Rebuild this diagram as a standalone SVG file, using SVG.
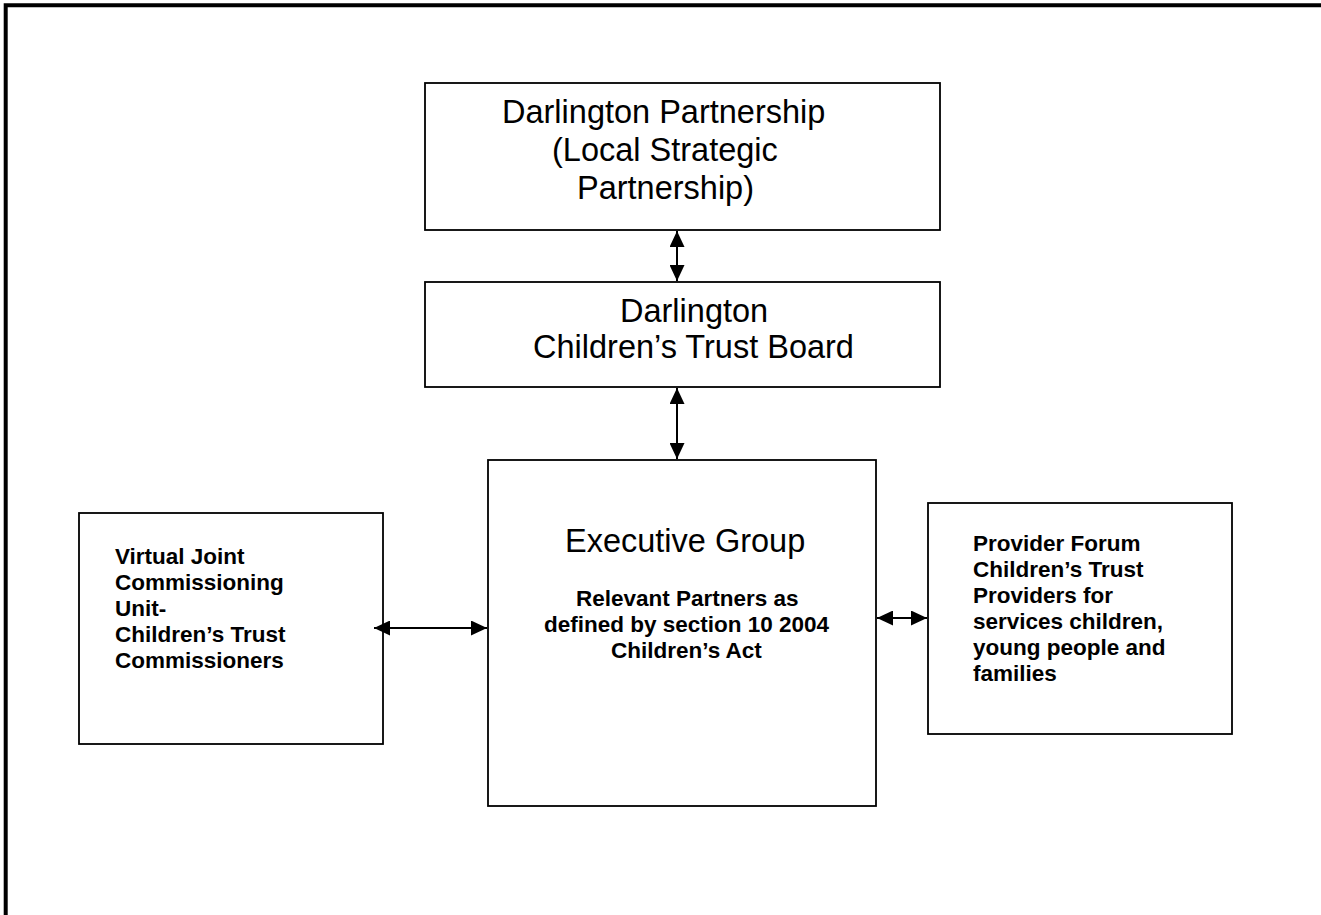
<svg xmlns="http://www.w3.org/2000/svg" width="1321" height="915" viewBox="0 0 1321 915">
<style>
.box{fill:#fff;stroke:#000;stroke-width:1.8}
.big{font-family:"Liberation Sans",Arial,sans-serif;font-size:32.5px;fill:#000}
.bold{font-family:"Liberation Sans",Arial,sans-serif;font-size:22.5px;font-weight:bold;fill:#000}
.conn{stroke:#000;stroke-width:2;fill:none;marker-start:url(#ah);marker-end:url(#ah)}
</style>
<defs>
<marker id="ah" markerUnits="userSpaceOnUse" markerWidth="16" markerHeight="15" refX="16" refY="7.5" orient="auto-start-reverse">
<path d="M0,0 L16,7.5 L0,15 z" fill="#000"/>
</marker>
</defs>
<rect width="1321" height="915" fill="#fff"/>
<path d="M5.7,915 V5.2 H1321" fill="none" stroke="#000" stroke-width="4"/>
<g id="darlington-partnership">
<rect class="box" x="425" y="83" width="515" height="147"/>
<text class="big" x="502" y="123">Darlington Partnership</text>
<text class="big" x="552" y="161">(Local Strategic</text>
<text class="big" x="577" y="199">Partnership)</text>
</g>
<g id="childrens-trust-board">
<rect class="box" x="425" y="282" width="515" height="105"/>
<text class="big" x="620" y="322">Darlington</text>
<text class="big" x="533" y="358">Children’s Trust Board</text>
</g>
<g id="executive-group">
<rect class="box" x="488" y="460" width="388" height="346"/>
<text class="big" x="565" y="552">Executive Group</text>
<text class="bold" x="576" y="606">Relevant Partners as</text>
<text class="bold" x="544" y="632">defined by section 10 2004</text>
<text class="bold" x="611" y="658">Children’s Act</text>
</g>
<g id="commissioning-unit">
<rect class="box" x="79" y="513" width="304" height="231"/>
<text class="bold" x="115" y="564">Virtual Joint</text>
<text class="bold" x="115" y="590">Commissioning</text>
<text class="bold" x="115" y="616">Unit-</text>
<text class="bold" x="115" y="642">Children’s Trust</text>
<text class="bold" x="115" y="668">Commissioners</text>
</g>
<g id="provider-forum">
<rect class="box" x="928" y="503" width="304" height="231"/>
<text class="bold" x="973" y="551">Provider Forum</text>
<text class="bold" x="973" y="577">Children’s Trust</text>
<text class="bold" x="973" y="603">Providers for</text>
<text class="bold" x="973" y="629">services children,</text>
<text class="bold" x="973" y="655">young people and</text>
<text class="bold" x="973" y="681">families</text>
</g>
<g id="connectors">
<line class="conn" x1="677" y1="231" x2="677" y2="281"/>
<line class="conn" x1="677" y1="388" x2="677" y2="459"/>
<line class="conn" x1="374" y1="628" x2="487" y2="628"/>
<line class="conn" x1="877" y1="618" x2="927" y2="618"/>
</g>
</svg>
